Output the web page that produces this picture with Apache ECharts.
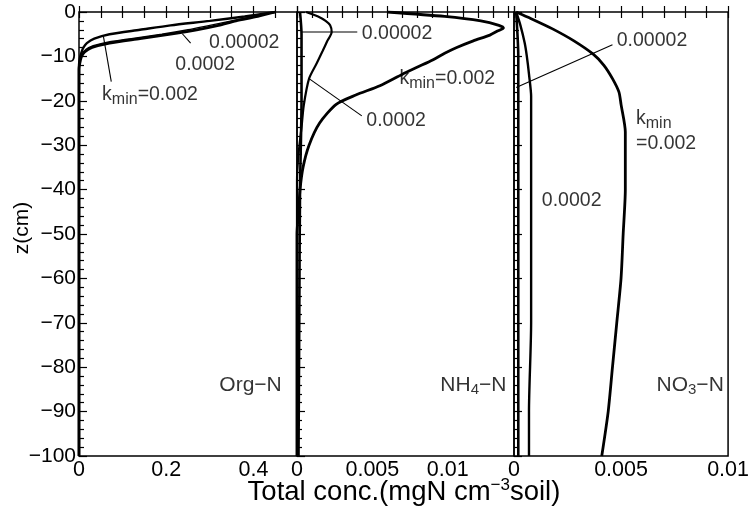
<!DOCTYPE html>
<html>
<head>
<meta charset="utf-8">
<script src="https://cdn.jsdelivr.net/npm/echarts@6/dist/echarts.min.js"></script>
<style>
  html, body { margin: 0; padding: 0; background: #fff; }
  #chart { width: 752px; height: 508px; }
</style>
</head>
<body>
<div id="chart"></div>
<script>
// Depth profiles of total N concentration for three mineralization rates (k_min)
// Each profile is a list of [concentration, depth z (cm)].

// Org-N panel
const orgN_k002 = [[0.45,0],[0.38,-1],[0.30,-2],[0.21,-3],[0.14,-4],[0.07,-5],[0.035,-6],[0.018,-7],[0.01,-8],[0.006,-9],[0.003,-10],[0.001,-11],[0,-12],[0,-100]];
const orgN_k0002 = [[0.45,0],[0.40,-1],[0.35,-2],[0.30,-3],[0.25,-4],[0.19,-5],[0.12,-6],[0.055,-7],[0.022,-8],[0.01,-9],[0.005,-10],[0.002,-11],[0.001,-12],[0,-13],[0,-100]];
const orgN_k00002 = [[0.45,0],[0.41,-1],[0.36,-2],[0.32,-3],[0.27,-4],[0.21,-5],[0.14,-6],[0.07,-7],[0.03,-8],[0.013,-9],[0.006,-10],[0.003,-11],[0.001,-12],[0,-13],[0,-100]];

// NH4-N panel
const nh4_k002 = [[0.006,0],[0.0098,-1],[0.0122,-2],[0.0134,-3],[0.0137,-3.6],[0.0133,-4.3],[0.0128,-5.2],[0.0117,-6.5],[0.0106,-8],[0.0098,-9.3],[0.009,-10.8],[0.008,-12.4],[0.007,-14],[0.0055,-16.6],[0.0039,-18.7],[0.0026,-20.8],[0.0015,-25],[0.0008,-30],[0.0004,-35],[0.0002,-40],[0.0001,-45],[0,-50],[0,-100]];
const nh4_k0002 = [[0.0006,0],[0.0014,-1],[0.0019,-2],[0.0022,-3],[0.0023,-4.5],[0.002,-6.6],[0.0017,-8.8],[0.0013,-11.6],[0.0008,-15],[0.00045,-21],[0.0003,-26],[0.0001,-32],[0,-38],[0,-100]];
const nh4_k00002 = [[0.0002,0],[0.0003,-5],[0.0003,-20],[0.0002,-40],[0.00015,-70],[0.0001,-100]];

// NO3-N panel
const no3_k002 = [[0.0001,0],[0.0008,-1.5],[0.0018,-3.8],[0.0028,-6.5],[0.0037,-9.5],[0.0042,-12],[0.0046,-15],[0.0049,-18],[0.005,-20.8],[0.0052,-27],[0.0052,-35],[0.0052,-40],[0.0051,-50],[0.005,-60],[0.0048,-70],[0.0046,-80],[0.0044,-90],[0.0041,-100]];
const no3_k0002 = [[0.0001,0],[0.0003,-3],[0.0005,-7],[0.0006,-10],[0.0007,-14],[0.0008,-19],[0.0008,-30],[0.0008,-50],[0.0008,-70],[0.0007,-90],[0.0007,-100]];
const no3_k00002 = [[0.0001,0],[0.0002,-10],[0.0002,-100]];

// Axis ranges and tick labels
const depthMin = -100, depthMax = 0;
const xMax = [0.5, 0.0144, 0.01];
const xTickStep = [0.05, 0.001, 0.001];
const xLabelValues = [[0, 0.2, 0.4], [0, 0.005, 0.01], [0, 0.005, 0.01]];
const xLabelTexts = [['0', '0.2', '0.4'], ['0', '0.005', '0.01'], ['0', '0.005', '0.01']];
const panelNames = ['Org−N', 'NH{sub|4}−N', 'NO{sub|3}−N'];

// Curve annotations: [panel, x, z, text]
const notes = [
  [0, 0.298, -7.0, '0.00002'],
  [0, 0.221, -11.9, '0.0002'],
  [0, 0.053, -18.7, 'k{sub|min}=0.002'],
  [1, 0.0043, -4.9, '0.00002'],
  [1, 0.0068, -15.0, 'k{sub|min}=0.002'],
  [1, 0.0046, -24.4, '0.0002'],
  [2, 0.0048, -6.4, '0.00002'],
  [2, 0.0057, -24.0, 'k{sub|min}'],
  [2, 0.0057, -29.7, '=0.002'],
  [2, 0.0013, -42.5, '0.0002']
];
// Leader lines: [panel, x1, z1, x2, z2]
const leaders = [
  [0, 0.256, -7.0, 0.237, -4.9],
  [0, 0.074, -15.7, 0.056, -5.5],
  [1, 0.0040, -4.5, 0.00033, -4.5],
  [1, 0.0043, -23.4, 0.0008, -15.0],
  [2, 0.0046, -7.4, 0.0001, -17.0]
];

const FONT = '"Liberation Sans", Arial, Helvetica, sans-serif';
const chart = echarts.init(document.getElementById('chart'), null, { renderer: 'canvas' });

const gridLefts = [79, 297, 514];
const gridWidths = [218, 217, 217];
const grids = gridLefts.map((l, i) => ({
  left: l, top: 12, width: gridWidths[i], height: 444,
  show: true, borderColor: '#000', borderWidth: 1.5, backgroundColor: 'transparent'
}));

const xAxes = [];
for (let i = 0; i < 3; i++) {
  const labs = xLabelValues[i], txt = xLabelTexts[i];
  xAxes.push({
    type: 'value', gridIndex: i, position: 'bottom', min: 0, max: xMax[i], interval: xTickStep[i],
    axisLine: { show: false }, splitLine: { show: false },
    axisTick: { show: true, inside: true, length: 6, lineStyle: { color: '#000', width: 1.2 } },
    axisLabel: {
      show: true, showMaxLabel: true, showMinLabel: true, margin: 3,
      color: '#000', fontFamily: FONT, fontSize: 21.5,
      formatter: function (v) {
        for (let k = 0; k < labs.length; k++) {
          if (Math.abs(v - labs[k]) < xTickStep[i] * 1e-3) return txt[k];
        }
        return '';
      }
    }
  });
  xAxes.push({
    type: 'value', gridIndex: i, position: 'top', min: 0, max: xMax[i], interval: xTickStep[i],
    axisLine: { show: false }, splitLine: { show: false }, axisLabel: { show: false },
    axisTick: { show: true, inside: true, length: 6, lineStyle: { color: '#000', width: 1.2 } }
  });
}

const yAxes = [];
for (let i = 0; i < 3; i++) {
  yAxes.push({
    type: 'value', gridIndex: i, position: 'left', min: depthMin, max: depthMax, interval: 10,
    axisLine: { show: false }, splitLine: { show: false },
    axisTick: { show: true, inside: true, length: 8, lineStyle: { color: '#000', width: 1.2 } },
    minorTick: { show: true, splitNumber: 5, length: 5, lineStyle: { color: '#000', width: 1.2 } },
    axisLabel: {
      show: i === 0, color: '#000', fontFamily: FONT, fontSize: 21, margin: 3,
      formatter: v => String(v).replace('-', '−')
    }
  });
}

function curve(panel, data, width) {
  return {
    type: 'line', xAxisIndex: panel * 2, yAxisIndex: panel, data: data,
    showSymbol: false, smooth: 0.25, silent: true, clip: true,
    lineStyle: { color: '#000', width: width }
  };
}

const series = [
  curve(0, orgN_k002, 2.4), curve(0, orgN_k0002, 1.4), curve(0, orgN_k00002, 2.8),
  curve(1, nh4_k002, 2.8), curve(1, nh4_k0002, 2.2), curve(1, nh4_k00002, 2.6),
  curve(2, no3_k002, 2.8), curve(2, no3_k0002, 2.4), curve(2, no3_k00002, 2.6)
];

function toRich(s) {
  return s.split(/(\{sub\|[^}]*\})/).map(p => p.startsWith('{') ? p : (p ? '{n|' + p + '}' : '')).join('');
}

const noteRich = {
  n: { fontFamily: FONT, fontSize: 19.5, color: '#000' },
  sub: { fontFamily: FONT, fontSize: 16, color: '#000', verticalAlign: 'bottom', padding: [10, 0, 0, 0] }
};

leaders.forEach(l => {
  series.push({
    type: 'line', xAxisIndex: l[0] * 2, yAxisIndex: l[0], data: [[l[1], l[2]], [l[3], l[4]]],
    showSymbol: false, silent: true, lineStyle: { color: '#000', width: 1.1 }
  });
});

notes.forEach(n => {
  series.push({
    type: 'scatter', xAxisIndex: n[0] * 2, yAxisIndex: n[0], data: [[n[1], n[2]]],
    symbolSize: 0, silent: true,
    label: { show: true, position: 'right', distance: 0, formatter: toRich(n[3]), rich: noteRich }
  });
});

// Panel names in the lower right of each panel
const panelLabelX = [0.465, 0.0139, 0.0098];
panelNames.forEach((name, i) => {
  series.push({
    type: 'scatter', xAxisIndex: i * 2, yAxisIndex: i, data: [[panelLabelX[i], -84]],
    symbolSize: 0, silent: true,
    label: {
      show: true, position: 'left', distance: 0, formatter: toRich(name),
      rich: {
        n: { fontFamily: FONT, fontSize: 21, color: '#000' },
        sub: { fontFamily: FONT, fontSize: 15, color: '#000', verticalAlign: 'bottom', padding: [10, 0, 0, 0] }
      }
    }
  });
});

chart.setOption({
  animation: false,
  backgroundColor: '#fff',
  grid: grids,
  xAxis: xAxes,
  yAxis: yAxes,
  series: series,
  graphic: [
    {
      type: 'text', x: 22, y: 228, rotation: Math.PI / 2,
      style: { text: 'z(cm)', font: '21px ' + FONT, fill: '#000', align: 'center', verticalAlign: 'middle' }
    },
    {
      type: 'text', x: 404, y: 492,
      style: {
        text: '{t|Total conc.(mgN cm}{s|−3}{t|soil)}',
        rich: {
          t: { fontFamily: FONT, fontSize: 27.5, fill: '#000', color: '#000' },
          s: { fontFamily: FONT, fontSize: 17, fill: '#000', color: '#000', verticalAlign: 'top', padding: [0, 0, 13, 0] }
        },
        align: 'center', verticalAlign: 'middle'
      }
    }
  ]
});
</script>
</body>
</html>
